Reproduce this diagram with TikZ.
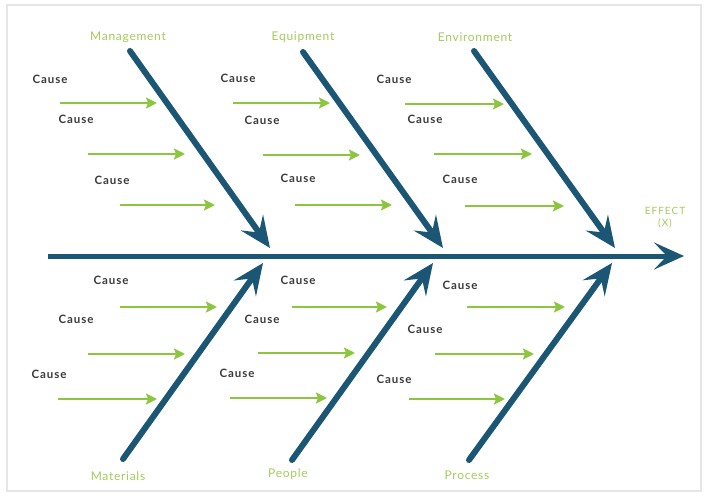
\documentclass[tikz,border=0pt]{standalone}
\usepackage{fontspec}
\setmainfont{Lato}
\usetikzlibrary{arrows.meta}
\definecolor{bone}{HTML}{1B5775}
\definecolor{twig}{HTML}{8CC63F}
\definecolor{lbl}{HTML}{A3CC5C}
\definecolor{txt}{HTML}{3B3B3B}
\definecolor{frame}{HTML}{E4E6E8}
\newfontfamily\causefont[LetterSpace=8]{Lato Bold}
\newfontfamily\catfont[LetterSpace=6]{Lato}
\newfontfamily\effectfont[LetterSpace=10]{Lato}
\tikzset{
  bonearrow/.style={line width=6pt, draw=bone, line cap=round, -{Stealth[length=31pt,width=27pt,inset=12pt]}},
  spinearrow/.style={line width=5pt, draw=bone, -{Stealth[length=30pt,width=27pt,inset=13pt]}},
  twigarrow/.style={line width=2.8pt, draw=twig, -{Stealth[length=11pt,width=11pt,inset=2pt]}},
  causetxt/.style={font=\causefont\fontsize{11.5}{13}\selectfont, text=txt, inner sep=0pt},
  cattxt/.style={font=\catfont\fontsize{12}{13}\selectfont, text=lbl, inner sep=0pt},
  effecttxt/.style={font=\effectfont\fontsize{10}{12}\selectfont, text=lbl, inner sep=0pt, align=center},
}
\begin{document}
\begin{tikzpicture}[x=1pt,y=-1pt]
\useasboundingbox (0,0) rectangle (704,497);
\fill[white] (0,0) rectangle (704,497);
\draw[frame, line width=1.5pt] (7,5) rectangle (701,491);

% cause labels and twig arrows: name / label pos / arrow start / arrow end
\foreach \n/\lx/\ly/\sx/\ex/\ay in {
  ta1/50/79/60/157/103, ta2/76/119/88/185/154, ta3/112/180/120/215/205,
  tb1/238/78/233/330/103, tb2/262/120/263/360/155, tb3/298/178/295/392/205,
  tc1/394/79/405/504/104, tc2/425/119/434/532/154, tc3/460/179/465/564/206,
  ba1/111/280/120/217/307, ba2/76/319/88/185/354, ba3/49/374/58/157/399,
  bb1/298/280/292/387/307, bb2/262/319/258/355/353, bb3/237/373/230/327/398,
  bc1/460/285/467/565/307, bc2/425/329/435/534/354, bc3/394/379/409/505/399}{
  \node[causetxt] (c\n) at (\lx,\ly) {Cause};
  \coordinate (s\n) at (\sx,\ay);
  \coordinate (e\n) at (\ex,\ay);
  \draw[twigarrow] (s\n) -- (e\n);
}

% category labels
\node[cattxt] (mgmt) at (128,37) {Management};
\node[cattxt] (equip) at (303,37) {Equipment};
\node[cattxt] (env) at (475,37) {Environment};
\node[cattxt] (mat) at (118,476) {Materials};
\node[cattxt] (ppl) at (288,474) {People};
\node[cattxt] (proc) at (467,475) {Process};
\node[effecttxt] (effect) at (665,218) {EFFECT\\(X)};

% spine
\coordinate (spineL) at (48,256);
\coordinate (spineR) at (684,256);
\draw[spinearrow] (spineL) -- (spineR);

% bones
\coordinate (mgmtS) at (130,51);  \coordinate (mgmtT) at (270,248);
\coordinate (equipS) at (303,52); \coordinate (equipT) at (443,248);
\coordinate (envS) at (474,51);   \coordinate (envT) at (615,248);
\coordinate (matS) at (123,459);  \coordinate (matT) at (263,263);
\coordinate (pplS) at (292,460);  \coordinate (pplT) at (433,263);
\coordinate (procS) at (469,460); \coordinate (procT) at (612,263);
\draw[bonearrow] (mgmtS) -- (mgmtT);
\draw[bonearrow] (equipS) -- (equipT);
\draw[bonearrow] (envS) -- (envT);
\draw[bonearrow] (matS) -- (matT);
\draw[bonearrow] (pplS) -- (pplT);
\draw[bonearrow] (procS) -- (procT);
\end{tikzpicture}
\end{document}
